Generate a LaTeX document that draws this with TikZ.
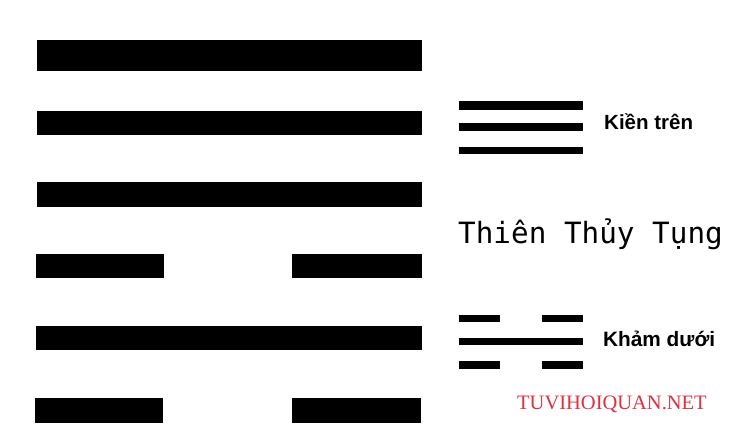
\documentclass[tikz,border=0pt]{standalone}
\usepackage{fontspec}
\setmainfont{Liberation Serif}
\setsansfont{Liberation Sans}
\newfontfamily\monofont{DejaVu Sans Mono}
\definecolor{sitered}{HTML}{E0303F}
\tikzset{
    bar/.style={fill=black},
    label/.style={anchor=base west, inner sep=0pt}
}
\begin{document}
\begin{tikzpicture}[x=1pt, y=-1pt]
    \useasboundingbox[fill=white] (0,0) rectangle (750,443);

    % Hexagram
    \fill[bar] (37,40) rectangle (422,71);
    \fill[bar] (37,111) rectangle (422,135);
    \fill[bar] (37,182) rectangle (422,207);
    \fill[bar] (36,254) rectangle (164,278);
    \fill[bar] (292,254) rectangle (422,278);
    \fill[bar] (36,326) rectangle (422,350);
    \fill[bar] (35,398) rectangle (163,423);
    \fill[bar] (292,398) rectangle (421,423);

    % Upper trigram
    \fill[bar] (459,101) rectangle (583,110);
    \fill[bar] (459,123) rectangle (583,131);
    \fill[bar] (459,147) rectangle (583,154);
    \node[label, font=\sffamily\bfseries\fontsize{20.5}{24}\selectfont] (upper) at (604,130) {Kiền trên};

    % Name
    \node[label, font=\monofont\fontsize{29.3}{34}\selectfont] (name) at (458,244) {Thiên Thu^^^^0309y Tụng};

    % Lower trigram
    \fill[bar] (459,315) rectangle (500,322);
    \fill[bar] (542,315) rectangle (583,322);
    \fill[bar] (459,338) rectangle (583,345);
    \fill[bar] (459,361) rectangle (500,369);
    \fill[bar] (542,361) rectangle (583,369);
    \node[label, font=\sffamily\bfseries\fontsize{20.8}{24}\selectfont] (lower) at (603,347) {Khảm dưới};

    \node[label, text=sitered, font=\fontsize{20.5}{24}\selectfont] (site) at (517,410) {TUVIHOIQUAN.NET};
\end{tikzpicture}
\end{document}
